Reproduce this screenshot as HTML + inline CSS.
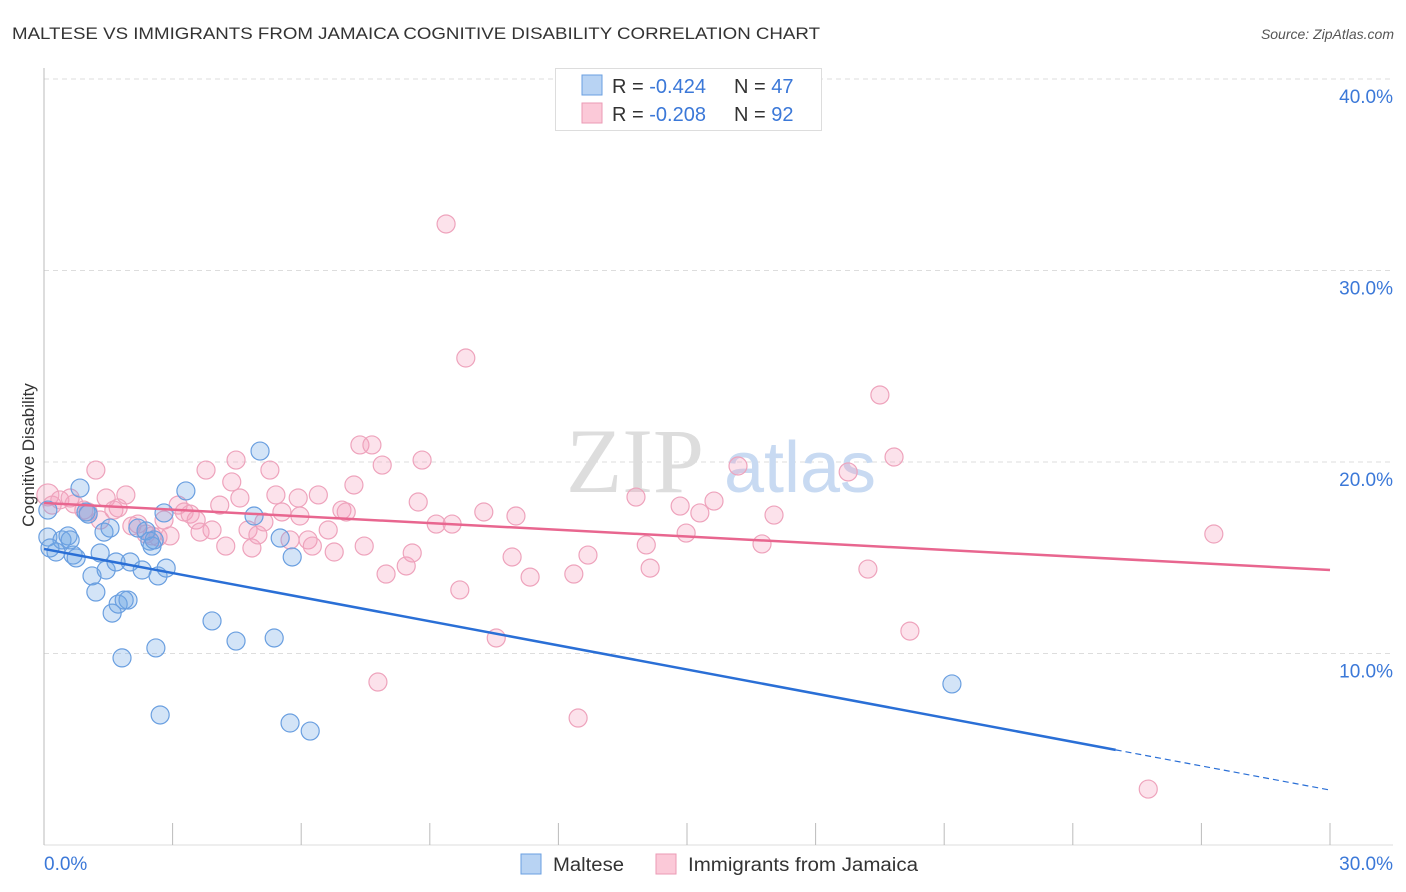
<!DOCTYPE html>
<html><head><meta charset="utf-8"><style>
body{margin:0;background:#fff;font-family:"Liberation Sans",sans-serif;}
svg{display:block}
</style></head><body>
<svg id="chart" width="1406" height="892">
<text x="12" y="39" font-size="17" fill="#333" textLength="808" lengthAdjust="spacingAndGlyphs">MALTESE VS IMMIGRANTS FROM JAMAICA COGNITIVE DISABILITY CORRELATION CHART</text>
<text x="1394" y="39" font-size="14" fill="#555" text-anchor="end" font-style="italic">Source: ZipAtlas.com</text>
<g id="grid"></g>
<text x="635" y="492" font-size="92" fill="#ddd" text-anchor="middle" font-family="Liberation Serif,serif">ZIP</text>
<text x="800" y="492" font-size="72" fill="#c8daf2" text-anchor="middle">atlas</text>
<g id="pts"></g>
<g id="lines"></g>
<text transform="translate(34,455) rotate(-90)" font-size="17" fill="#333" text-anchor="middle">Cognitive Disability</text>
<g>
<rect x="555.5" y="68.5" width="266" height="62" fill="#fff" stroke="#ddd"/>
<rect x="582" y="75" width="20" height="20" fill="#b8d3f3" stroke="#6a9fe0"/>
<rect x="582" y="103" width="20" height="20" fill="#fbc9d8" stroke="#eb9ab5"/>
<text x="612" y="93" font-size="20" fill="#333">R = <tspan fill="#3b78d8">-0.424</tspan></text>
<text x="734" y="93" font-size="20" fill="#333">N = <tspan fill="#3b78d8">47</tspan></text>
<text x="612" y="121" font-size="20" fill="#333">R = <tspan fill="#3b78d8">-0.208</tspan></text>
<text x="734" y="121" font-size="20" fill="#333">N = <tspan fill="#3b78d8">92</tspan></text>
</g>
<g>
<rect x="521" y="854" width="20" height="20" fill="#b8d3f3" stroke="#6a9fe0"/>
<text x="553" y="871" font-size="19" fill="#333" textLength="71" lengthAdjust="spacingAndGlyphs">Maltese</text>
<rect x="656" y="854" width="20" height="20" fill="#fbc9d8" stroke="#eb9ab5"/>
<text x="688" y="871" font-size="19" fill="#333" textLength="230" lengthAdjust="spacingAndGlyphs">Immigrants from Jamaica</text>
</g>
</svg>
<script>
const yTicks=[10,20,30,40];
const xTickLabels=["0.0%","30.0%"];
const blueX=[0.09,0.28,0.42,0.56,0.68,0.75,0.84,0.98,1.12,1.21,1.31,1.40,1.45,1.59,1.68,1.73,1.82,1.96,2.01,2.19,2.29,2.38,2.47,2.52,2.61,2.66,2.71,2.80,2.85,3.31,3.92,4.48,4.90,5.04,5.37,5.51,5.74,5.79,6.21,21.18,0.09,0.61,1.03,1.87,2.57,1.54,0.14];
const blueY=[16.08,15.30,15.93,16.14,15.14,14.99,18.64,17.39,14.05,13.21,15.25,16.34,14.36,12.11,14.78,12.58,9.77,12.79,14.78,16.55,14.36,16.40,15.87,15.61,10.29,14.05,6.79,17.34,14.46,18.49,11.70,10.65,17.18,20.57,10.81,16.03,6.37,15.04,5.95,8.41,17.49,15.93,17.28,12.79,15.93,16.55,15.51];
const pinkX=[0.09,0.19,0.37,0.61,0.70,0.93,1.03,1.21,1.31,1.45,1.63,1.73,1.91,2.05,2.19,2.38,2.52,2.66,2.80,2.94,3.13,3.27,3.41,3.55,3.64,3.78,3.92,4.10,4.24,4.38,4.48,4.57,4.76,4.85,4.99,5.13,5.27,5.41,5.55,5.74,5.93,5.97,6.16,6.26,6.40,6.63,6.77,6.95,7.05,7.23,7.37,7.47,7.65,7.79,7.89,7.98,8.45,8.59,8.73,8.82,9.15,9.38,9.52,9.70,9.84,10.26,10.55,10.92,11.01,11.34,12.36,12.46,12.69,13.81,14.05,14.14,14.84,14.98,15.30,15.63,16.19,16.75,17.03,18.76,19.22,19.50,19.83,20.20,25.76,27.29];
const pinkY=[18.28,17.75,18.02,18.12,17.81,17.49,17.39,19.58,16.97,18.12,17.49,17.60,18.28,16.66,16.76,16.24,16.14,16.08,16.97,16.14,17.75,17.39,17.28,16.97,16.34,19.58,16.45,17.75,15.61,18.96,20.10,18.12,16.45,15.51,16.19,16.87,19.58,18.28,17.39,15.93,18.12,17.18,15.93,15.61,18.28,16.45,15.30,17.49,17.39,18.80,20.89,15.61,20.89,8.51,19.84,14.15,14.57,15.25,17.91,20.10,16.76,32.43,16.76,13.32,25.43,17.39,10.81,15.04,17.18,13.99,14.15,6.63,15.14,18.17,15.67,14.46,17.70,16.29,17.34,17.96,19.79,15.72,17.23,19.48,14.41,23.50,20.26,11.17,2.92,16.24];
const blueTrend=[15.46,2.87]; const blueSolidEnd=25.0;
const pinkTrend=[17.86,14.36];
const X=v=>44+v/30*1286, Y=v=>845-v*19.15;
const NS="http://www.w3.org/2000/svg";
function mk(t,a,p){const e=document.createElementNS(NS,t);for(const k in a)e.setAttribute(k,a[k]);p.appendChild(e);return e;}
const g=document.getElementById('grid');
yTicks.forEach(t=>{
 const l=mk('line',{x1:44,x2:1393,y1:Y(t),y2:Y(t),stroke:'#ddd','stroke-dasharray':'5,4'},g);
 
 
 const tx=mk('text',{x:1393,y:Y(t)+24,'font-size':19,fill:'#3b78d8','text-anchor':'end'},g);
 tx.textContent=t.toFixed(1)+'%';
 
 
});
const ax=mk('line',{x1:44,x2:44,y1:68,y2:845,stroke:'#bbb'},g);


const bx=mk('line',{x1:44,x2:1393,y1:845,y2:845,stroke:'#ddd'},g);


for(let i=0;i<=10;i++){const v=i*3;const tk=mk('line',{x1:X(v),x2:X(v),y1:823,y2:845,stroke:'#bbb'},g);
 
 }
[[0,'start'],[30,'end']].forEach((d,i)=>{const t=mk('text',{x:i?1393:44,y:870,'font-size':19,fill:'#3b78d8','text-anchor':d[1]},g);t.textContent=xTickLabels[i];
 
 });
const p=document.getElementById('pts');
pinkX.forEach((x,i)=>{const c=mk('circle',{cx:X(x),cy:Y(pinkY[i]),r:i==0?11:9,fill:'rgba(244,160,188,0.3)',stroke:'#eea3bc','stroke-width':1.2},p);
 
 });
blueX.forEach((x,i)=>{const c=mk('circle',{cx:X(x),cy:Y(blueY[i]),r:9,fill:'rgba(110,165,230,0.3)',stroke:'#6a9fe0','stroke-width':1.2},p);
 
 });
const L=document.getElementById('lines');
const by=x=>blueTrend[0]+(blueTrend[1]-blueTrend[0])*x/30;
const l1=mk('line',{x1:X(0),y1:Y(by(0)),x2:X(blueSolidEnd),y2:Y(by(blueSolidEnd)),stroke:'#2a6fd6','stroke-width':2.5},L);


const l2=mk('line',{x1:X(blueSolidEnd),y1:Y(by(blueSolidEnd)),x2:X(30),y2:Y(by(30)),stroke:'#2a6fd6','stroke-width':1.2,'stroke-dasharray':'6,4'},L);


const l3=mk('line',{x1:X(0),y1:Y(pinkTrend[0]),x2:X(30),y2:Y(pinkTrend[1]),stroke:'#e8668f','stroke-width':2.5},L);


</script>
</body></html>
